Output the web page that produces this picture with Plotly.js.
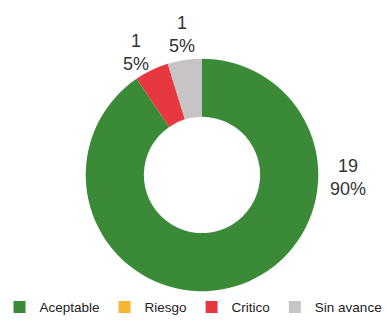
<!DOCTYPE html>
<html>
<head>
<meta charset="utf-8">
<script src="https://cdn.plot.ly/plotly-3.0.1.min.js"></script>
<style>html,body{margin:0;padding:0;background:#fff;}#chart{width:387px;height:323px;}</style>
</head>
<body>
<div id="chart"></div>
<script>
const categories = ['Aceptable', 'Riesgo', 'Critico', 'Sin avance'];
const values = [19, 0, 1, 1];
const colors = ['#3b8a37', '#f5b731', '#e8383f', '#c6c4c4'];

const total = values.reduce((a, b) => a + b, 0);
const pct = v => Math.round(v / total * 100) + '%';

// label anchor points (paper coords) for each non-zero slice, as placed in the original
const labelPos = [[0.898, 0.446], null, [0.351, 0.837], [0.469, 0.893]];

const trace = {
  type: 'pie',
  labels: categories,
  values: values,
  hole: 0.5,
  sort: false,
  direction: 'clockwise',
  rotation: 0,
  marker: {colors: colors, line: {width: 0}},
  textinfo: 'none',
  hoverinfo: 'label+value+percent',
  domain: {x: [0.2196, 0.8243], y: [0.0929, 0.8173]}
};

const labelFont = {family: 'Liberation Sans, Arial, sans-serif', size: 18, color: '#333333'};
const annotations = values.map((v, i) => (v > 0 && labelPos[i]) ? {
  x: labelPos[i][0], y: labelPos[i][1], xref: 'paper', yref: 'paper',
  xanchor: 'center', yanchor: 'middle',
  text: v + '<br>' + pct(v),
  showarrow: false,
  font: labelFont
} : null).filter(a => a);

const layout = {
  width: 387,
  height: 323,
  margin: {l: 0, r: 0, t: 0, b: 0},
  paper_bgcolor: '#ffffff',
  showlegend: true,
  legend: {
    orientation: 'h',
    x: 0.5, xanchor: 'center',
    y: -0.005, yanchor: 'bottom',
    font: {family: 'Liberation Sans, Arial, sans-serif', size: 13.5, color: '#222'},
    itemwidth: 30,
    traceorder: 'normal'
  },
  annotations: annotations
};

Plotly.newPlot('chart', [trace], layout, {displayModeBar: false, staticPlot: true});
</script>
</body>
</html>
